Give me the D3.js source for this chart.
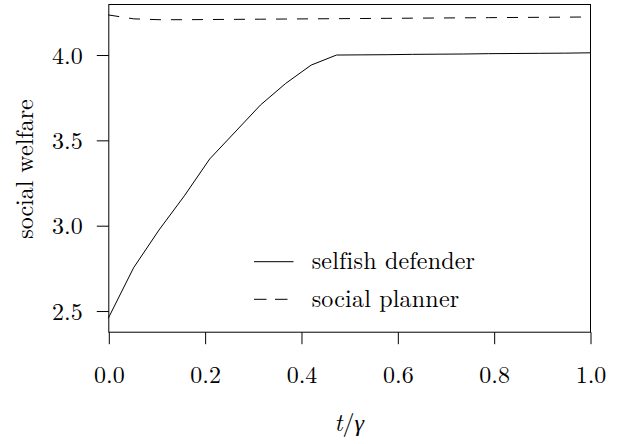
<!DOCTYPE html>
<html>
<head>
<meta charset="utf-8">
<script src="https://cdn.jsdelivr.net/npm/d3@7/dist/d3.min.js"></script>
<style>
  body { margin: 0; background: #fff; }
</style>
</head>
<body>
<div id="chart"></div>
<script>
var w = 622,
  h = 444;
var margin = {top: 4, right: 32, bottom: 112.3, left: 108.3};
var FONT = "'Latin Modern Roman', serif";

// t/gamma grid (20 points) and the two series
var tg = [0, 0.0526, 0.1053, 0.1579, 0.2105, 0.2632, 0.3158, 0.3684, 0.4211, 0.4737,
          0.5263, 0.5789, 0.6316, 0.6842, 0.7368, 0.7895, 0.8421, 0.8947, 0.9474, 1];
var selfish = [2.455, 2.751, 2.972, 3.172, 3.388, 3.546, 3.704, 3.831, 3.938, 3.997,
               3.998, 3.999, 4.001, 4.002, 4.003, 4.005, 4.006, 4.007, 4.008, 4.010];
var planner = [4.232, 4.209, 4.204, 4.204, 4.205, 4.206, 4.207, 4.208, 4.209, 4.210,
               4.211, 4.212, 4.213, 4.214, 4.215, 4.216, 4.217, 4.218, 4.219, 4.220];

var xTicks = [0, 0.2, 0.4, 0.6, 0.8, 1.0];
var yTicks = [2.5, 3.0, 3.5, 4.0];
var seriesNames = ["selfish defender", "social planner"];
var dashes = [null, "11,10"];

var x = d3.scaleLinear().domain([0, 1]).range([margin.left, w - margin.right]);
var y = d3.scaleLinear().domain([2.376, 4.296]).range([h - margin.bottom, margin.top]);

var svg = d3.select("#chart").append("svg").attr("width", w).attr("height", h);

// box round the plot
svg.append("rect")
  .attr("x", x(0) + 0.5).attr("y", y.range()[1] + 0.5)
  .attr("width", x(1) - x(0)).attr("height", y.range()[0] - y.range()[1])
  .style("fill", "none").style("stroke", "#000").style("stroke-width", 1);

// x axis
var gx = svg.append("g")
  .attr("transform", "translate(0.5," + (y.range()[0] + 0.5) + ")")
  .call(d3.axisBottom(x).tickValues(xTicks).tickSize(12).tickSizeOuter(0).tickFormat(d3.format(".1f")));
gx.select(".domain").remove();
gx.selectAll("line").style("stroke", "#000");
gx.selectAll("text").attr("y", 51.1).attr("dy", null)
  .style("font-family", FONT).style("font-size", "24px");

// y axis
var gy = svg.append("g")
  .attr("transform", "translate(" + (x(0) + 0.5) + ",0.5)")
  .call(d3.axisLeft(y).tickValues(yTicks).tickSize(12).tickSizeOuter(0).tickPadding(14).tickFormat(d3.format(".1f")));
gy.select(".domain").remove();
gy.selectAll("line").style("stroke", "#000");
gy.selectAll("text").attr("dy", "0.34em")
  .style("font-family", FONT).style("font-size", "24px");

// lines
var line = d3.line()
  .x(function (d) { return x(d[0]); })
  .y(function (d) { return y(d[1]); });

var data = [selfish, planner].map(function (s) {
  return s.map(function (v, i) { return [tg[i], v]; });
});

svg.selectAll(".series")
  .data(data)
  .enter().append("path")
  .attr("class", "series")
  .attr("d", line)
  .style("fill", "none")
  .style("stroke", "#000")
  .style("stroke-width", 1)
  .style("stroke-dasharray", function (d, i) { return dashes[i]; });

// legend
var leg = svg.append("g");
seriesNames.forEach(function (name, i) {
  var ly = 261.7 + i * 37.6;
  leg.append("line")
    .attr("x1", 254).attr("x2", 293.5).attr("y1", ly).attr("y2", ly)
    .style("stroke", "#000").style("stroke-width", 1)
    .style("stroke-dasharray", i == 1 ? "12.5,8.5" : null);
  leg.append("text")
    .attr("x", 311.7).attr("y", ly + 7.6)
    .style("font-family", FONT).style("font-size", "24px").style("letter-spacing", "0.2px")
    .text(name);
});

// axis titles
var xl = svg.append("text")
  .attr("x", (x(0) + x(1)) / 2).attr("y", 431)
  .attr("text-anchor", "middle")
  .style("font-family", FONT).style("font-size", "24px");
xl.append("tspan").style("font-style", "italic").text("t");
xl.append("tspan").text("/");
xl.append("tspan").style("font-style", "italic").text("γ");

svg.append("text")
  .attr("transform", "translate(33," + 169 + ") rotate(-90)")
  .attr("text-anchor", "middle")
  .style("font-family", FONT).style("font-size", "24px")
  .text("social welfare");
</script>
</body>
</html>
